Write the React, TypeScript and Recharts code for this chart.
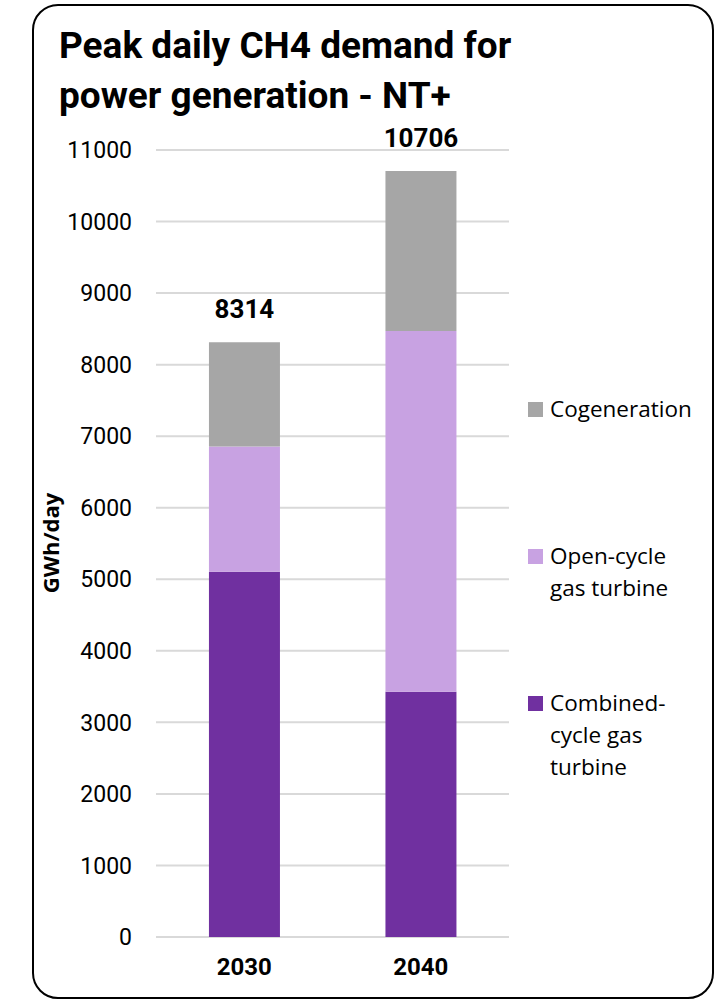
import React from 'react';
import { BarChart, Bar, XAxis, YAxis, CartesianGrid, Legend, LabelList } from 'recharts';

// Peak daily CH4 demand for power generation (GWh/day), NT+ scenario
const years = ['2030', '2040'];
const combinedCycle = [5104, 3427];
const openCycle = [1751, 5044];
const cogeneration = [1459, 2235];
const yTicks = [0, 1000, 2000, 3000, 4000, 5000, 6000, 7000, 8000, 9000, 10000, 11000];

const seriesNames: Record<string, string> = {
  ccgt: 'Combined-cycle gas turbine',
  ocgt: 'Open-cycle gas turbine',
  cogen: 'Cogeneration',
};

const COLORS: Record<string, string> = {
  ccgt: '#7030a0',
  ocgt: '#c8a2e2',
  cogen: '#a6a6a6',
};

// legend lists the series top of stack first
const legendOrder = ['cogen', 'ocgt', 'ccgt'];

const data = years.map((year, i) => ({
  year,
  ccgt: combinedCycle[i],
  ocgt: openCycle[i],
  cogen: cogeneration[i],
}));

const totals = data.map((d) => d.ccgt + d.ocgt + d.cogen);

const TotalLabel = (props: any) => {
  const { x, y, width, index } = props;
  return (
    <text
      x={x + width / 2}
      y={y - 33}
      textAnchor="middle"
      dominantBaseline="central"
      fontFamily="Roboto"
      fontWeight={700}
      fontSize={26}
      fill="#000"
    >
      {totals[index]}
    </text>
  );
};

const LegendContent = (props: any) => {
  const payload = props.payload || [];
  const items = legendOrder
    .map((key) => payload.find((p: any) => p.dataKey === key))
    .filter(Boolean);
  return (
    <div style={{ display: 'flex', flexDirection: 'column' }}>
      {items.map((item: any) => (
        <div key={item.value} style={{ height: 147, position: 'relative' }}>
          <div
            style={{
              position: 'absolute',
              left: 0,
              top: 9,
              width: 15,
              height: 15,
              background: item.color,
            }}
          />
          <div
            style={{
              position: 'absolute',
              left: 22,
              top: 0,
              width: 140,
              fontFamily: '"Open Sans"',
              fontSize: 22.5,
              lineHeight: '32px',
              color: '#000',
            }}
          >
            {item.value}
          </div>
        </div>
      ))}
    </div>
  );
};

export default function App() {
  return (
    <div style={{ position: 'absolute', left: 0, top: 0, width: 719, height: 1001, overflow: 'hidden', background: '#fff' }}>
      <div
        style={{
          position: 'absolute',
          left: 32,
          top: 4,
          width: 682,
          height: 995,
          border: '2px solid #000',
          borderRadius: 26,
          boxSizing: 'border-box',
        }}
      />
      <div
        style={{
          position: 'absolute',
          left: 59,
          top: 21,
          fontFamily: 'Roboto',
          fontWeight: 700,
          fontSize: 37,
          lineHeight: '50px',
          color: '#000',
          whiteSpace: 'nowrap',
        }}
      >
        Peak daily CH4 demand for
        <br />
        power generation - NT+
      </div>
      <div
        style={{
          position: 'absolute',
          left: 50,
          top: 543,
          transform: 'translate(-50%, -50%) rotate(-90deg)',
          fontFamily: '"Open Sans"',
          fontWeight: 700,
          fontSize: 22,
          color: '#000',
          whiteSpace: 'nowrap',
        }}
      >
        GWh/day
      </div>
      <div style={{ position: 'absolute', left: 0, top: 0 }}>
        <BarChart
          width={719}
          height={1001}
          data={data}
          margin={{ top: 150, right: 25, bottom: 24, left: 76 }}
          barCategoryGap="30%"
        >
          <CartesianGrid vertical={false} stroke="#d9d9d9" strokeWidth={2} />
          <XAxis
            dataKey="year"
            axisLine={false}
            tickLine={false}
            tickSize={0}
            tickMargin={21}
            height={40}
            tick={{ fontFamily: 'Roboto', fontWeight: 700, fontSize: 24, fill: '#000' }}
          />
          <YAxis
            domain={[0, 11000]}
            ticks={yTicks}
            interval={0}
            axisLine={false}
            tickLine={false}
            tickSize={0}
            tickMargin={24}
            width={80}
            tick={{ fontFamily: 'Roboto', fontSize: 23, fill: '#000' }}
          />
          <Legend
            layout="vertical"
            align="right"
            verticalAlign="top"
            wrapperStyle={{ position: 'absolute', left: 528, top: 393, width: 185 }}
            content={<LegendContent />}
          />
          <Bar dataKey="ccgt" name={seriesNames.ccgt} stackId="a" fill={COLORS.ccgt} isAnimationActive={false} />
          <Bar dataKey="ocgt" name={seriesNames.ocgt} stackId="a" fill={COLORS.ocgt} isAnimationActive={false} />
          <Bar dataKey="cogen" name={seriesNames.cogen} stackId="a" fill={COLORS.cogen} isAnimationActive={false}>
            <LabelList dataKey="cogen" content={<TotalLabel />} />
          </Bar>
        </BarChart>
      </div>
    </div>
  );
}
